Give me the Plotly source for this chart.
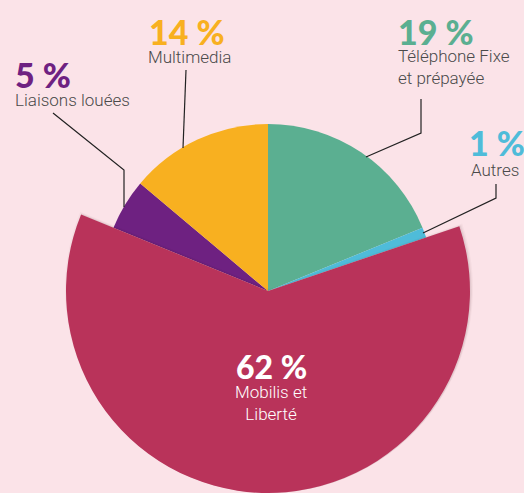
import plotly.graph_objects as go

# ---- data ----
categories = ["Téléphone Fixe et prépayée", "Autres", "Mobilis et Liberté", "Liaisons louées", "Multimedia"]
values = [19, 1, 62, 5, 14]
pct_labels = ["19 %", "1 %", "62 %", "5 %", "14 %"]
name_labels = ["Téléphone Fixe<br>et prépayée", "Autres", "Mobilis et<br>Liberté", "Liaisons louées", "Multimedia"]
colors = ["#5BAF91", "#4FBCD9", "#B9335A", "#6E2181", "#F8B020"]

W, H = 524, 493
BG = "#FBE3E8"
TXT = "#4A4A4A"


def px(x):
    return x / W


def py(y):
    return 1 - y / H


cx, cy = 268, 291
R_small, R_big = 167, 202
big_idx = 2

small_colors = [c if i != big_idx else "rgba(0,0,0,0)" for i, c in enumerate(colors)]
big_colors = [c if i == big_idx else "rgba(0,0,0,0)" for i, c in enumerate(colors)]

fig = go.Figure()

common = dict(labels=categories, values=values, sort=False, direction="clockwise",
              rotation=0, textinfo="none", hoverinfo="label+value", showlegend=False)

fig.add_trace(go.Pie(
    marker=dict(colors=small_colors, line=dict(width=0)),
    domain=dict(x=[px(cx - R_small), px(cx + R_small)], y=[py(cy + R_small), py(cy - R_small)]),
    **common))

# soft shadow under the large slice
for k, a in [(5, 0.03), (3, 0.04), (1.5, 0.06)]:
    sh_colors = ["rgba(60,20,30,%.2f)" % a if i == big_idx else "rgba(0,0,0,0)" for i in range(len(values))]
    r = R_big + k
    fig.add_trace(go.Pie(
        marker=dict(colors=sh_colors, line=dict(width=0)),
        domain=dict(x=[px(cx - r + 1), px(cx + r + 1)], y=[max(0, py(cy + r + 1)), py(cy - r + 1)]),
        **{**common, "hoverinfo": "skip"}))

fig.add_trace(go.Pie(
    marker=dict(colors=big_colors, line=dict(width=0)),
    domain=dict(x=[px(cx - R_big), px(cx + R_big)], y=[max(0, py(cy + R_big)), py(cy - R_big)]),
    **common))

PCT_FONT = dict(family="Lato, Roboto, sans-serif", weight=900)
LBL_FONT = dict(family="Roboto, sans-serif", weight=300)

# label placements (pixel positions of text blocks)
# (pct x, pct y, name x, name y, anchor)
placements = {
    0: (396, 31, 396, 67, "left"),
    1: (467, 143, 469, 170, "left"),
    2: (271, 366, 271, 403, "center"),
    3: (13, 75, 13, 100, "left"),
    4: (147, 31, 146, 57, "left"),
}

for i, (pxx, pyy, nx, ny, anc) in placements.items():
    col = "white" if i == big_idx else colors[i]
    ncol = "white" if i == big_idx else TXT
    size = 32 if i == big_idx else 34
    fig.add_annotation(x=px(pxx), y=py(pyy), xref="paper", yref="paper", text=pct_labels[i],
                       showarrow=False, xanchor=anc, yanchor="middle",
                       font=dict(size=size, color=col, **PCT_FONT))
    fig.add_annotation(x=px(nx), y=py(ny), xref="paper", yref="paper", text=name_labels[i],
                       showarrow=False, xanchor=anc, yanchor="middle", align=anc,
                       font=dict(size=17, color=ncol, **LBL_FONT))

# leader lines
leaders = [
    [(53, 113), (124, 170), (124, 207)],
    [(186, 70), (183, 148)],
    [(421, 99), (421, 133), (366, 157)],
    [(496, 184), (496, 198), (423, 233)],
]
for pts in leaders:
    path = "M " + " L ".join("%.5f %.5f" % (px(x), py(y)) for x, y in pts)
    fig.add_shape(type="path", path=path, xref="paper", yref="paper",
                  line=dict(color="#222222", width=1.2))

fig.update_layout(width=W, height=H, margin=dict(l=0, r=0, t=0, b=0),
                  paper_bgcolor=BG, plot_bgcolor=BG)

fig.write_html("out.html", config={"displayModeBar": False},
               post_script="document.body.style.margin='0';document.body.style.overflow='hidden';")
